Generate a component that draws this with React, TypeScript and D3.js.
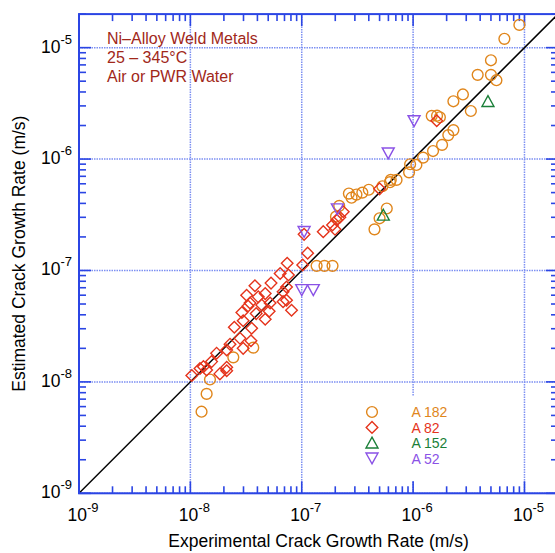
import React from "react";
import * as d3 from "d3";

// Experimental vs. estimated crack growth rates (m/s), [experimental, estimated]
const a182: [number, number][] = [
  [9.0e-6, 1.6e-5], [6.6e-6, 1.2e-5], [5.0e-6, 7.7e-6], [3.8e-6, 5.7e-6], [5.0e-6, 5.7e-6],
  [5.6e-6, 5.1e-6], [2.8e-6, 3.8e-6], [2.3e-6, 3.3e-6], [3.3e-6, 2.7e-6], [1.47e-6, 2.44e-6],
  [1.64e-6, 2.45e-6], [1.74e-6, 2.37e-6], [2.3e-6, 1.82e-6], [2.07e-6, 1.64e-6], [1.82e-6, 1.34e-6],
  [1.51e-6, 1.18e-6], [1.23e-6, 1.03e-6], [1.07e-6, 8.85e-7], [9.4e-7, 8.98e-7], [9.2e-7, 7.6e-7],
  [7.1e-7, 6.5e-7], [6.3e-7, 6.5e-7], [6.2e-7, 6.2e-7], [5.3e-7, 5.7e-7], [4.0e-7, 5.3e-7],
  [3.5e-7, 5.0e-7], [3.1e-7, 4.8e-7], [2.8e-7, 4.5e-7], [2.65e-7, 4.9e-7], [2.17e-7, 3.8e-7],
  [5.8e-7, 3.6e-7], [5.0e-7, 2.94e-7], [4.5e-7, 2.34e-7], [2.03e-7, 3.04e-7], [1.36e-7, 1.1e-7],
  [1.6e-7, 1.1e-7], [1.89e-7, 1.1e-7], [3.67e-8, 2.03e-8], [2.43e-8, 1.66e-8], [1.5e-8, 1.05e-8],
  [1.4e-8, 7.8e-9], [1.26e-8, 5.4e-9],
];

const a82: [number, number][] = [
  [1.63e-6, 2.21e-6], [5.0e-7, 5.4e-7], [2.36e-7, 3.37e-7], [2.2e-7, 3.0e-7], [2.06e-7, 2.84e-7],
  [1.89e-7, 2.56e-7], [1.99e-7, 2.34e-7], [1.56e-7, 2.23e-7], [1.05e-7, 2.11e-7], [1.13e-7, 1.43e-7],
  [1.02e-7, 1.12e-7], [7.4e-8, 1.16e-7], [6.4e-8, 9.4e-8], [7.6e-8, 9.1e-8], [5.3e-8, 7.7e-8],
  [3.8e-8, 7.3e-8], [7.3e-8, 7.1e-8], [3.2e-8, 6.0e-8], [4.07e-8, 5.8e-8], [4.7e-8, 6.2e-8],
  [6.8e-8, 6.45e-8], [6.8e-8, 5.25e-8], [7.3e-8, 5.4e-8], [3.43e-8, 5.1e-8], [3.3e-8, 4.8e-8],
  [4.37e-8, 4.9e-8], [5.2e-8, 5.1e-8], [8.1e-8, 4.4e-8], [2.9e-8, 4.2e-8], [3.9e-8, 4.1e-8],
  [5.1e-8, 4.3e-8], [4.7e-8, 3.65e-8], [2.98e-8, 3.54e-8], [2.48e-8, 3.09e-8], [3.55e-8, 3.03e-8],
  [2.79e-8, 2.46e-8], [2.27e-8, 2.18e-8], [2.98e-8, 2.0e-8], [3.5e-8, 2.34e-8], [2.12e-8, 1.93e-8],
  [1.72e-8, 1.81e-8], [1.55e-8, 1.52e-8], [1.31e-8, 1.37e-8], [2.12e-8, 1.35e-8], [1.84e-8, 1.18e-8],
  [1.22e-8, 1.32e-8], [1.03e-8, 1.14e-8], [1.4e-8, 1.28e-8], [2.12e-8, 1.26e-8],
];

const a152: [number, number][] = [
  [4.7e-6, 3.3e-6], [5.4e-7, 3.15e-7],
];

const a52: [number, number][] = [
  [1.02e-6, 2.2e-6], [5.98e-7, 1.13e-6], [2.09e-7, 3.56e-7], [1.05e-7, 2.23e-7],
  [1.0e-7, 6.7e-8], [1.27e-7, 6.7e-8],
];

const decades = [1e-9, 1e-8, 1e-7, 1e-6, 1e-5];
const decadeExponents = ["-9", "-8", "-7", "-6", "-5"];
const legendLabels = ["A 182", "A 82", "A 152", "A 52"];
const noteLines = ["Ni\u2013Alloy Weld Metals", "25 \u2013 345\u00B0C", "Air or PWR Water"];

const W = 555;
const H = 553;
const left = 79;
const right = 558;
const top = 14.1;
const bottom = 493.3;
const domain: [number, number] = [1e-9, 2e-5];

const AXIS = "#2b45e4";
const GRID = "#7d90f2";
const FONT = "'Liberation Sans', Arial, Helvetica, sans-serif";
const colors = ["#e0861c", "#e5341c", "#1a7f38", "#8a52e6"];

type Shape = "circle" | "diamond" | "up" | "down";
const shapes: Shape[] = ["circle", "diamond", "up", "down"];

function Marker({ shape, x, y, color }: { shape: Shape; x: number; y: number; color: string }) {
  const common = { fill: "none", stroke: color, strokeWidth: 1.4 };
  if (shape === "circle") return <circle cx={x} cy={y} r={5.4} {...common} />;
  if (shape === "diamond") {
    const s = 5.8;
    return <path d={`M${x},${y - s}L${x + s},${y}L${x},${y + s}L${x - s},${y}Z`} {...common} />;
  }
  const hw = 6;
  const hh = 5.2;
  if (shape === "up")
    return <path d={`M${x},${y - hh - 0.5}L${x + hw},${y + hh}L${x - hw},${y + hh}Z`} {...common} />;
  return <path d={`M${x},${y + hh + 0.5}L${x + hw},${y - hh}L${x - hw},${y - hh}Z`} {...common} />;
}

export default function App() {
  const x = d3.scaleLog().domain(domain).range([left, right]);
  const y = d3.scaleLog().domain(domain).range([bottom, top]);

  // minor ticks: 2..9 within each decade, up to the domain end
  const minors: number[] = [];
  for (let e = -9; e <= -5; e++) {
    for (let m = 2; m <= 9; m++) {
      const v = m * Math.pow(10, e);
      if (v <= domain[1] * 1.0001) minors.push(v);
    }
  }

  const series = [a182, a82, a152, a52];
  const majorLen = 12;
  const minorLen = 7;

  return (
    <svg
      width={W}
      height={H}
      style={{ position: "absolute", left: 0, top: 0, background: "#fff" }}
      fontFamily={FONT}
    >
      <defs>
        <clipPath id="plot-clip">
          <rect x={left} y={top} width={right - left} height={bottom - top} />
        </clipPath>
      </defs>

      {/* grid */}
      {decades.map((d, i) => (
        <g key={`g${i}`}>
          <line x1={x(d)} x2={x(d)} y1={top} y2={bottom} stroke={GRID} strokeWidth={1.5} strokeDasharray="1.5 1" />
          <line x1={left} x2={right} y1={y(d)} y2={y(d)} stroke={GRID} strokeWidth={1.5} strokeDasharray="1.5 1" />
        </g>
      ))}

      {/* ticks */}
      <g stroke={AXIS} strokeWidth={1.6}>
        {minors.map((v, i) => (
          <g key={`m${i}`}>
            <line x1={x(v)} x2={x(v)} y1={bottom} y2={bottom - minorLen} />
            <line x1={x(v)} x2={x(v)} y1={top} y2={top + minorLen} />
            <line x1={left} x2={left + minorLen} y1={y(v)} y2={y(v)} />
            <line x1={right} x2={right - minorLen} y1={y(v)} y2={y(v)} />
          </g>
        ))}
        {decades.map((d, i) => (
          <g key={`M${i}`}>
            <line x1={x(d)} x2={x(d)} y1={bottom} y2={bottom - majorLen} />
            <line x1={x(d)} x2={x(d)} y1={top} y2={top + majorLen} />
            <line x1={left} x2={left + majorLen} y1={y(d)} y2={y(d)} />
            <line x1={right} x2={right - majorLen} y1={y(d)} y2={y(d)} />
          </g>
        ))}
      </g>

      {/* 1:1 line */}
      <line
        x1={x(domain[0])}
        y1={y(domain[0])}
        x2={x(domain[1])}
        y2={y(domain[1])}
        stroke="#000"
        strokeWidth={1.5}
        clipPath="url(#plot-clip)"
      />

      {/* data */}
      <g clipPath="url(#plot-clip)">
        {series.map((s, si) =>
          s.map(([ex, es], i) => (
            <Marker key={`${si}-${i}`} shape={shapes[si]} x={x(ex)} y={y(es)} color={colors[si]} />
          ))
        )}
      </g>

      {/* frame */}
      <rect x={left} y={top} width={right - left} height={bottom - top} fill="none" stroke={AXIS} strokeWidth={2} />

      {/* tick labels */}
      {decades.map((d, i) => (
        <text key={`xl${i}`} x={x(d) + 4} y={521} textAnchor="middle" fontSize={17.5} fill="#000">
          <tspan>10</tspan>
          <tspan dy={-9} fontSize={13}>{decadeExponents[i]}</tspan>
        </text>
      ))}
      {decades.map((d, i) => (
        <text key={`yl${i}`} x={72} y={y(d) + 5} textAnchor="end" fontSize={17.5} fill="#000">
          <tspan>10</tspan>
          <tspan dy={-9} fontSize={13}>{decadeExponents[i]}</tspan>
        </text>
      ))}

      {/* axis titles */}
      <text x={(left + right) / 2} y={547} textAnchor="middle" fontSize={17.5} fill="#000">
        Experimental Crack Growth Rate (m/s)
      </text>
      <text
        transform={`translate(25,${(top + bottom) / 2}) rotate(-90)`}
        textAnchor="middle"
        fontSize={17.5}
        fill="#000"
      >
        Estimated Crack Growth Rate (m/s)
      </text>

      {/* annotation */}
      {noteLines.map((t, i) => (
        <text key={`n${i}`} x={107} y={44 + i * 19} fontSize={16} fill="#a1281a">
          {t}
        </text>
      ))}

      {/* legend */}
      <rect x={360} y={396} width={105} height={85} fill="#fff" />
      {legendLabels.map((t, i) => (
        <g key={`lg${i}`}>
          <Marker shape={shapes[i]} x={372} y={412 + i * 15.4} color={colors[i]} />
          <text x={411.5} y={417.3 + i * 15.4} fontSize={14} fill={colors[i]}>
            {t}
          </text>
        </g>
      ))}
    </svg>
  );
}
